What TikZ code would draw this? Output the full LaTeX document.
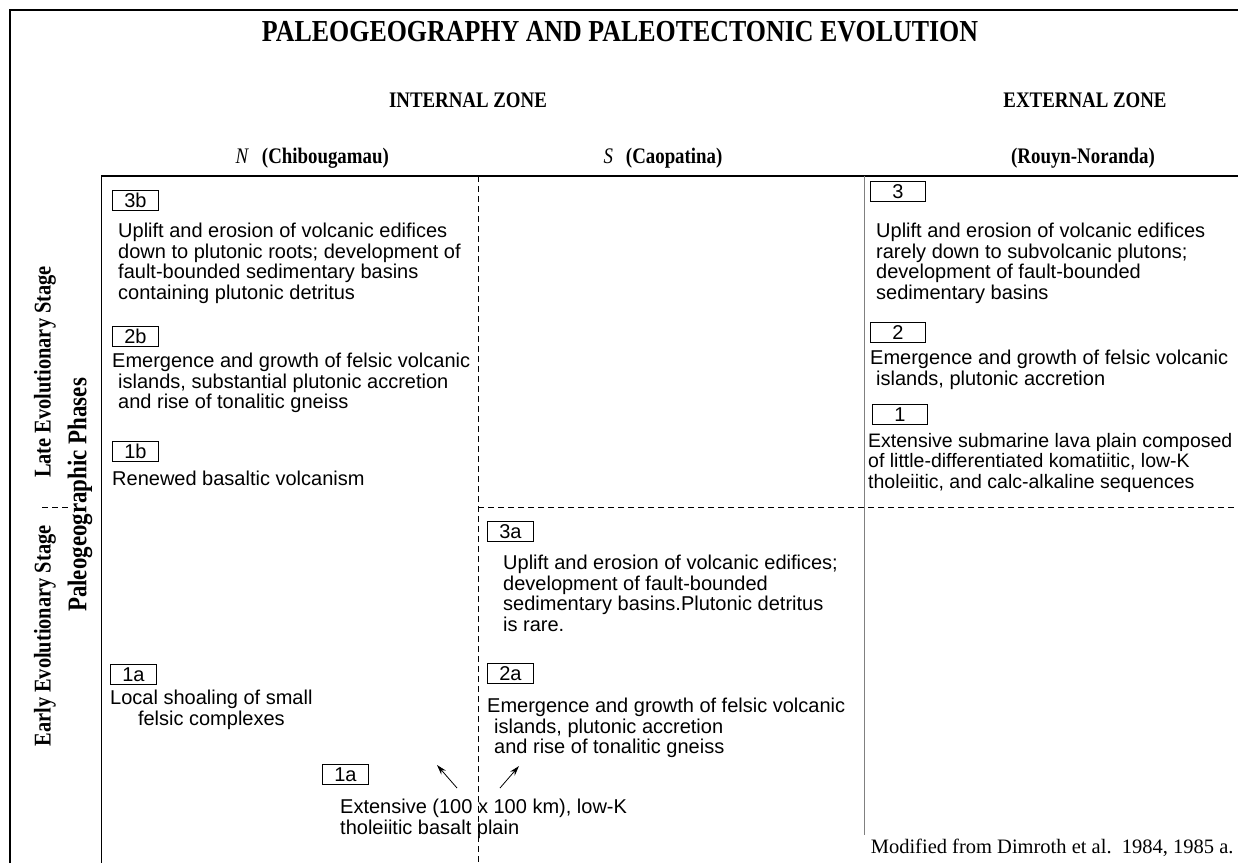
\documentclass[tikz,border=0pt]{standalone}
\usepackage{fontspec}
\setmainfont{Liberation Serif}
\setsansfont{Liberation Sans}
\newfontfamily\narrowserif[FakeStretch=0.85]{Liberation Serif}
\usetikzlibrary{arrows.meta}

\begin{document}
\begin{tikzpicture}[x=1pt,y=-1pt,
	desc/.style={anchor=north west,inner sep=0pt,align=left,font=\sffamily\fontsize{20}{20.5}\selectfont},
	phasebox/.style={draw,line width=0.9pt,anchor=north west,inner sep=0pt,minimum width=46pt,minimum height=20pt,font=\sffamily\fontsize{20}{20}\selectfont},
	head/.style={font=\narrowserif\bfseries\fontsize{22.2}{24}\selectfont},
	gridline/.style={line width=0.8pt},
	splitline/.style={line width=0.8pt,dash pattern=on 6pt off 4pt}]
	\fill[white] (0,0) rectangle (1238,863);
	\useasboundingbox (0,0) rectangle (1238,863);
	\draw[line width=2pt] (10,863) -- (10,10) -- (1238,10);
	\draw[line width=1.6pt] (101,176) -- (1238,176);
	\draw[gridline] (101,176) -- (101,863);
	\draw[splitline] (478,176) -- (478,863);
	\draw[gridline, gray] (864,176) -- (864,835);
	\draw[splitline] (478,507) -- (1238,507);
	\draw[splitline] (42,507) -- (68,507);
	\node[head, font=\narrowserif\bfseries\fontsize{30.5}{32}\selectfont] (title) at (620,32) {PALEOGEOGRAPHY AND PALEOTECTONIC EVOLUTION};
	\node[head] (internal) at (468,100) {INTERNAL ZONE};
	\node[head] (external) at (1085,100) {EXTERNAL ZONE};
	\node[head, anchor=west] (north) at (232,158) {\textit{\mdseries N}\hspace{13pt}(Chibougamau)};
	\node[head, anchor=west] (south) at (600,158) {\textit{\mdseries S}\hspace{13pt}(Caopatina)};
	\node[head] (rouyn) at (1083,158) {(Rouyn-Noranda)};
	\node[head, font=\narrowserif\bfseries\fontsize{24}{26}\selectfont, rotate=90] (late) at (45,372) {Late Evolutionary Stage};
	\node[head, font=\narrowserif\bfseries\fontsize{24}{26}\selectfont, rotate=90] (early) at (45,636) {Early Evolutionary Stage};
	\node[head, font=\narrowserif\bfseries\fontsize{27}{28}\selectfont, rotate=90] (phases) at (80,495) {Paleogeographic Phases};
	% internal zone, north
	\node[phasebox] (b3b) at (112,190) {3b};
	\node[desc] (t3b) at (118,223) {Uplift and erosion of volcanic edifices\\down to plutonic roots; development of\\fault-bounded sedimentary basins\\containing plutonic detritus};
	\node[phasebox] (b2b) at (112,326) {2b};
	\node[desc] (t2b) at (112,353) {Emergence and growth of felsic volcanic\\\hspace*{6pt}islands, substantial plutonic accretion\\\hspace*{6pt}and rise of tonalitic gneiss};
	\node[phasebox] (b1b) at (112,441) {1b};
	\node[desc] (t1b) at (112,471) {Renewed basaltic volcanism};
	\node[phasebox] (b1a) at (110,664) {1a};
	\node[desc, align=center] (t1a) at (110,690) {Local shoaling of small\\felsic complexes};
	\node[phasebox] (b1ab) at (322,764) {1a};
	\node[desc] (tplain) at (340,799) {Extensive (100 x 100 km), low-K\\tholeiitic basalt plain};
	\coordinate (tailN) at (457,788);
	\coordinate (tipN) at (437,765);
	\coordinate (tailS) at (500,788);
	\coordinate (tipS) at (519,766);
	\draw[-{Stealth[length=10pt,width=6pt]}, line width=0.8pt] (tailN) -- (tipN);
	\draw[-{Stealth[length=10pt,width=6pt]}, line width=0.8pt] (tailS) -- (tipS);
	% internal zone, south
	\node[phasebox] (b3a) at (487,521) {3a};
	\node[desc] (t3a) at (503,555) {Uplift and erosion of volcanic edifices;\\development of fault-bounded\\sedimentary basins.Plutonic detritus\\is rare.};
	\node[phasebox] (b2a) at (487,663) {2a};
	\node[desc] (t2a) at (487,698) {Emergence and growth of felsic volcanic\\\hspace*{7pt}islands, plutonic accretion\\\hspace*{7pt}and rise of tonalitic gneiss};
	% external zone
	\node[phasebox, minimum width=55pt] (b3) at (870,181) {3};
	\node[desc] (t3) at (876,223) {Uplift and erosion of volcanic edifices\\rarely down to subvolcanic plutons;\\development of fault-bounded\\sedimentary basins};
	\node[phasebox, minimum width=55pt] (b2) at (870,322) {2};
	\node[desc] (t2) at (870,350) {Emergence and growth of felsic volcanic\\\hspace*{6pt}islands, plutonic accretion};
	\node[phasebox, minimum width=55pt] (b1) at (872,404) {1};
	\node[desc, font=\sffamily\fontsize{19.5}{20.5}\selectfont] (t1) at (868,433) {Extensive submarine lava plain composed\\of little-differentiated komatiitic, low-K\\tholeiitic, and calc-alkaline sequences};
	\node[anchor=east, font=\fontsize{20.5}{22}\selectfont] (credit) at (1237,848) {Modified from Dimroth et al.\ \ 1984, 1985 a.};
\end{tikzpicture}
\end{document}
